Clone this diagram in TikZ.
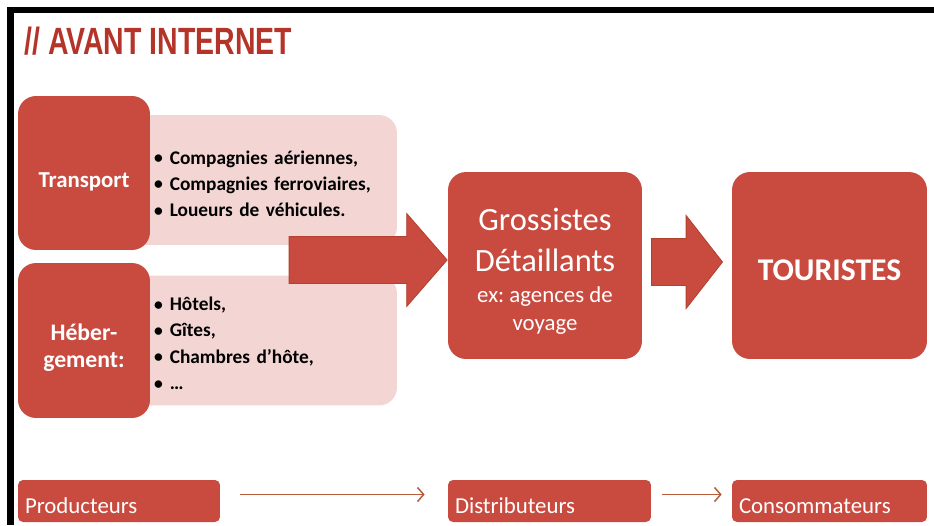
\documentclass[tikz,border=0pt]{standalone}
\usepackage{fontspec}
\setmainfont{Carlito}
\newfontfamily\titlefont[FakeStretch=0.75]{Liberation Sans}
\usepackage{tikz}
\usetikzlibrary{shapes}
\usetikzlibrary{shapes.arrows}
\usetikzlibrary{arrows.meta}
\usetikzlibrary{positioning}
\frenchspacing

\definecolor{boxred}{HTML}{C94B40}
\definecolor{listpink}{HTML}{F3D6D3}
\definecolor{titlered}{HTML}{B5342A}
\definecolor{arrowedge}{HTML}{B3412F}
\definecolor{flowline}{HTML}{B85C3C}

\newcommand{\itembul}[1]{\mbox{\raisebox{0.3pt}{\fontsize{10}{10}\selectfont\textbullet}\hspace{4pt}#1}}
\newcommand{\lift}[1]{\rule{0pt}{#1}}

\begin{document}
\begin{tikzpicture}[x = 0.02cm, y = -0.02cm,
			actor/.style = {fill=boxred, rounded corners=0.36cm, text=white, align=center, inner sep=0pt},
			listbox/.style = {fill=listpink, rounded corners=0.36cm, align=left, inner xsep=0.48cm,
				text width=4.38cm, minimum height=2.6cm, font=\bfseries\fontsize{11}{15}\selectfont},
			role/.style = {fill=boxred, rounded corners=0.1cm, text=white, align=left, inner xsep=0.14cm,
				minimum height=0.84cm, font=\fontsize{13}{15}\selectfont},
			bigarrow/.style = {single arrow, fill=boxred, draw=arrowedge, line width=0.5pt,
				inner xsep=0pt, inner ysep=0.46cm, single arrow head extend=0.46cm},
			flow/.style = {draw=flowline, line width=0.85pt, -{Straight Barb[length=3.5pt, width=8pt]}}]
				% Frame
				\useasboundingbox[fill=white] (0, 0) rectangle (934, 525);
				\fill[black] (7, 7) rectangle (934, 13);
				\fill[black] (7, 7) rectangle (14, 525);
				
				% Title
				\node[anchor=west, text=titlered, inner sep=0pt, font=\titlefont\bfseries\fontsize{21.6}{24}\selectfont] (title) at (24, 41) {// AVANT INTERNET};
				
				% Nodes
				\node[listbox] (listT) at (263.5, 180) {\lift{12pt}\itembul{Compagnies aériennes,}\\ \itembul{Compagnies ferroviaires,}\\ \itembul{Loueurs de véhicules.}};
				\node[listbox] (listH) at (263.5, 340.5) {\lift{11pt}\itembul{Hôtels,}\\ \itembul{Gîtes,}\\ \itembul{Chambres d’hôte,}\\ \itembul{\dots}};
				\node[actor, minimum width=2.64cm, minimum height=3.08cm, font=\bfseries\fontsize{13}{15}\selectfont] (transport) at (84, 173) {\lift{19pt}Transport};
				\node[actor, minimum width=2.64cm, minimum height=3.10cm, font=\bfseries\fontsize{13.5}{15}\selectfont] (heberg) at (84, 340.5) {\lift{17.5pt}Héber-\\gement:};
				\node[actor, minimum width=3.88cm, minimum height=3.74cm, font=\fontsize{18.5}{23.3}\selectfont] (gross) at (545, 265.5) {\lift{19.5pt}Grossistes\\Détaillants\\[-6pt]{\fontsize{13}{16}\selectfont ex: agences de}\\[-7.3pt]{\fontsize{13}{16}\selectfont voyage}};
				\node[actor, minimum width=3.90cm, minimum height=3.74cm, font=\bfseries\fontsize{18}{20}\selectfont] (tour) at (829.5, 265.5) {\lift{17.3pt}TOURISTES};
				
				\node[role, text width=3.76cm] (prod) at (119, 501) {\lift{14.5pt}Producteurs};
				\node[role, text width=3.78cm] (dist) at (549.5, 501) {\lift{14.5pt}Distributeurs};
				\node[role, text width=3.62cm] (cons) at (829.5, 501) {\lift{14.5pt}Consommateurs};
				
				% Edges
				\node[bigarrow, minimum height=3.16cm, single arrow tip angle=98, anchor=tip] (arrA) at (gross.west |- 0, 260) {};
				\node[bigarrow, minimum height=1.42cm, single arrow tip angle=104, anchor=tip] (arrB) at (723, 262) {};
				\draw[flow, shorten <=0.4cm, shorten >=0.46cm] ([yshift=0.13cm]prod.east) -- ([yshift=0.13cm]dist.west);
				\draw[flow, shorten <=0.22cm, shorten >=0.2cm] ([yshift=0.13cm]dist.east) -- ([yshift=0.13cm]cons.west);
			\end{tikzpicture}
\end{document}
